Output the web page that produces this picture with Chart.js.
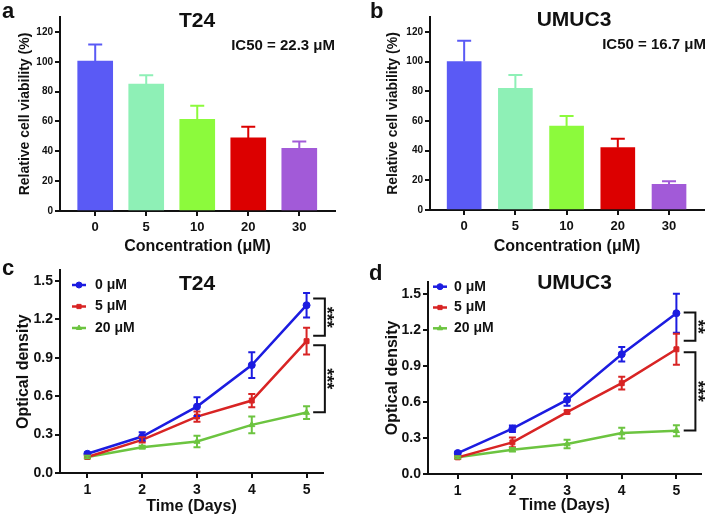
<!DOCTYPE html>
<html><head><meta charset="utf-8">
<script src="https://cdn.jsdelivr.net/npm/chart.js@4.4.1/dist/chart.umd.min.js"></script>
<style>
html,body{margin:0;padding:0;background:#fff;}
#wrap{position:relative;width:708px;height:519px;overflow:hidden;background:#fff;}
canvas{position:absolute;}
</style></head><body>
<div id="wrap">
<canvas id="ca" width="354" height="260" style="left:0;top:0"></canvas>
<canvas id="cb" width="354" height="260" style="left:354px;top:0"></canvas>
<canvas id="cc" width="354" height="259" style="left:0;top:260px"></canvas>
<canvas id="cd" width="354" height="259" style="left:354px;top:260px"></canvas>
</div>
<script>
// ---------- data ----------
const concentrations = ['0', '5', '10', '20', '30'];
const t24Viability = [100.5, 85, 61.5, 49, 42];
const t24ViabilityErr = [11, 6, 9, 7.5, 4.5];
const umuc3Viability = [100, 82, 56.5, 42, 17.3];
const umuc3ViabilityErr = [14, 9, 6.8, 6, 2];
const viabilityTicks = [0, 20, 40, 60, 80, 100, 120];

const days = [1, 2, 3, 4, 5];
const doseLabels = ['0 μM', '5 μM', '20 μM'];
const odTicks = [0, 0.3, 0.6, 0.9, 1.2, 1.5];

const t24_0uM = [0.150, 0.285, 0.519, 0.843, 1.311];
const t24_0uMErr = [0.01, 0.034, 0.073, 0.10, 0.096];
const t24_5uM = [0.125, 0.259, 0.441, 0.566, 1.03];
const t24_5uMErr = [0.01, 0.02, 0.04, 0.052, 0.104];
const t24_20uM = [0.125, 0.202, 0.246, 0.376, 0.472];
const t24_20uMErr = [0.01, 0.01, 0.045, 0.065, 0.05];

const umuc3_0uM = [0.175, 0.378, 0.619, 1.0, 1.342];
const umuc3_0uMErr = [0.01, 0.027, 0.05, 0.06, 0.163];
const umuc3_5uM = [0.139, 0.264, 0.517, 0.758, 1.041];
const umuc3_5uMErr = [0.01, 0.04, 0.012, 0.053, 0.13];
const umuc3_20uM = [0.139, 0.202, 0.25, 0.342, 0.361];
const umuc3_20uMErr = [0.01, 0.015, 0.035, 0.045, 0.045];

const t24Significance = [{top: 1.363, bottom: 1.072, label: '***'}, {top: 0.999, bottom: 0.475, label: '***'}];
const umuc3Significance = [{top: 1.347, bottom: 1.113, label: '**'}, {top: 1.017, bottom: 0.363, label: '***'}];

// ---------- styles ----------
const FF = "'Liberation Sans', Arial, Helvetica, sans-serif";
const barColors = ['#5a5af5', '#8ef0b6', '#8cfa3c', '#dc0000', '#a25ad8'];
const lineColors = ['#1c1ce0', '#d82424', '#6cc440'];
const pointStyles = ['circle', 'rect', 'triangle'];
Chart.defaults.font.family = FF;
Chart.defaults.color = '#111';

// ---------- plugins ----------
const errorBars = {
  id: 'errorBars',
  afterDatasetsDraw(chart, args, o) {
    const ctx = chart.ctx, xs = chart.scales.x, ys = chart.scales.y;
    chart.data.datasets.forEach(ds => {
      if (!ds.errors) return;
      ds.data.forEach((p, i) => {
        const col = Array.isArray(ds.errorColor) ? ds.errorColor[i] : ds.errorColor;
        const x = xs.getPixelForValue(p.x);
        const yt = ys.getPixelForValue(p.y + ds.errors[i]);
        const yb = ds.upOnly ? ys.getPixelForValue(p.y) : ys.getPixelForValue(p.y - ds.errors[i]);
        ctx.save();
        ctx.strokeStyle = col; ctx.lineWidth = o.lineWidth || 2;
        ctx.beginPath();
        ctx.moveTo(x, yt); ctx.lineTo(x, yb);
        ctx.moveTo(x - o.cap / 2, yt); ctx.lineTo(x + o.cap / 2, yt);
        if (!ds.upOnly) { ctx.moveTo(x - o.cap / 2, yb); ctx.lineTo(x + o.cap / 2, yb); }
        ctx.stroke();
        ctx.restore();
      });
    });
  }
};

const panelText = {
  id: 'panelText',
  afterDraw(chart, args, o) {
    const ctx = chart.ctx;
    (o.items || []).forEach(it => {
      ctx.save();
      ctx.font = it.font; ctx.fillStyle = '#111';
      ctx.textAlign = it.align || 'left'; ctx.textBaseline = 'alphabetic';
      ctx.fillText(it.text, it.x, it.y);
      ctx.restore();
    });
  }
};

const brackets = {
  id: 'brackets',
  afterDraw(chart, args, o) {
    if (!o.items) return;
    const ctx = chart.ctx, xs = chart.scales.x, ys = chart.scales.y;
    const xRef = xs.getPixelForValue(o.atX);
    const fs = o.fontSize;
    o.items.forEach(b => {
      const y1 = ys.getPixelForValue(b.top), y2 = ys.getPixelForValue(b.bottom);
      const xa = xRef + o.inner, xb = xRef + o.outer;
      ctx.save();
      ctx.strokeStyle = '#111'; ctx.lineWidth = 2;
      ctx.beginPath();
      ctx.moveTo(xa, y1); ctx.lineTo(xb, y1); ctx.lineTo(xb, y2); ctx.lineTo(xa, y2);
      ctx.stroke();
      ctx.translate(xRef + o.label - 0.58 * fs, (y1 + y2) / 2);
      ctx.rotate(Math.PI / 2);
      ctx.fillStyle = '#111';
      ctx.font = 'bold ' + fs + 'px ' + FF; ctx.textAlign = 'center'; ctx.textBaseline = 'alphabetic';
      ctx.fillText(b.label, 0, 0);
      ctx.restore();
    });
  }
};

const miniLegend = {
  id: 'miniLegend',
  afterDraw(chart, args, o) {
    const ctx = chart.ctx;
    chart.data.datasets.forEach((ds, i) => {
      const y = o.y + i * o.dy;
      ctx.save();
      ctx.strokeStyle = ds.borderColor; ctx.lineWidth = 2.5;
      ctx.beginPath(); ctx.moveTo(o.x, y); ctx.lineTo(o.x + o.len, y); ctx.stroke();
      ctx.fillStyle = ds.borderColor; ctx.lineWidth = 1;
      if (Chart.helpers && Chart.helpers.drawPoint) {
        Chart.helpers.drawPoint(ctx, {pointStyle: ds.pointStyle, radius: 3, borderWidth: 1, rotation: 0}, o.x + o.len / 2, y);
      }
      ctx.fillStyle = '#111'; ctx.font = o.font; ctx.textBaseline = 'middle'; ctx.textAlign = 'left';
      ctx.fillText(ds.label, o.textX, y);
      ctx.restore();
    });
  }
};

// ---------- common axis pieces ----------
function axisGrid() {
  return {display: true, drawOnChartArea: false, drawTicks: true, tickLength: 5, color: '#111', lineWidth: 2, offset: false};
}
function axisBorder() { return {display: true, color: '#111', width: 2}; }

// ---------- bar charts ----------
function barChart(id, values, errs, cfg) {
  return new Chart(document.getElementById(id), {
    type: 'bar',
    data: {
      datasets: [{
        data: values.map((v, i) => ({x: i, y: v})),
        backgroundColor: barColors,
        borderWidth: 0,
        barThickness: cfg.barW,
        errors: errs, errorColor: barColors, upOnly: true
      }]
    },
    options: {
      responsive: false, animation: false,
      layout: {padding: {top: cfg.top, right: cfg.right, left: 0, bottom: 0}},
      plugins: {
        legend: {display: false}, tooltip: {enabled: false}, title: {display: false},
        errorBars: {cap: 14, lineWidth: 2},
        panelText: {items: cfg.texts}
      },
      scales: {
        x: {
          type: 'linear', min: cfg.xmin, max: cfg.xmax, offset: false,
          grid: axisGrid(), border: axisBorder(),
          afterBuildTicks: s => { s.ticks = concentrations.map((c, i) => ({value: i})); },
          afterFit: s => { s.height = cfg.xh; },
          ticks: {font: {size: 13, weight: 'bold'}, padding: 4, color: '#111', maxRotation: 0,
                  callback: v => concentrations[v]},
          title: {display: true, text: 'Concentration (μM)', font: {size: 16, weight: 'bold'}, color: '#111',
                  padding: {top: 0, bottom: cfg.xtPad}}
        },
        y: {
          min: 0, max: 130,
          grid: axisGrid(), border: axisBorder(),
          afterBuildTicks: s => { s.ticks = viabilityTicks.map(v => ({value: v})); },
          afterFit: s => { s.width = cfg.left; },
          ticks: {font: {size: 10, weight: 'bold'}, padding: 2, color: '#111'},
          title: {display: true, text: 'Relative cell viability (%)', font: {size: 14, weight: 'bold'}, color: '#111',
                  padding: {top: cfg.ytPad, bottom: 0}}
        }
      }
    },
    plugins: [errorBars, panelText]
  });
}

// ---------- line charts ----------
function lineChart(id, series, errs, sig, cfg) {
  return new Chart(document.getElementById(id), {
    type: 'line',
    data: {
      datasets: series.map((s, k) => ({
        label: doseLabels[k],
        data: s.map((v, i) => ({x: days[i], y: v})),
        borderColor: lineColors[k], backgroundColor: lineColors[k],
        pointBackgroundColor: lineColors[k], pointBorderColor: lineColors[k],
        pointStyle: pointStyles[k], pointRadius: 3.5, pointBorderWidth: 1,
        borderWidth: 2.5, tension: 0, fill: false,
        errors: errs[k], errorColor: lineColors[k]
      }))
    },
    options: {
      responsive: false, animation: false,
      layout: {padding: {top: cfg.top, right: cfg.right, left: 0, bottom: 0}},
      plugins: {
        legend: {display: false}, tooltip: {enabled: false}, title: {display: false},
        errorBars: {cap: 7, lineWidth: 2},
        panelText: {items: cfg.texts},
        brackets: {items: sig, atX: 5, inner: cfg.bInner, outer: cfg.bOuter, label: cfg.bLabel, fontSize: 18},
        miniLegend: cfg.legend
      },
      scales: {
        x: {
          type: 'linear', min: cfg.xmin, max: cfg.xmax,
          grid: axisGrid(), border: axisBorder(),
          afterBuildTicks: s => { s.ticks = days.map(d => ({value: d})); },
          afterFit: s => { s.height = cfg.xh; },
          ticks: {font: {size: 14, weight: 'bold'}, padding: 4, color: '#111', maxRotation: 0},
          title: {display: true, text: 'Time (Days)', font: {size: 16, weight: 'bold'}, color: '#111',
                  padding: {top: 0, bottom: cfg.xtPad}}
        },
        y: {
          min: 0, max: cfg.ymax,
          grid: axisGrid(), border: axisBorder(),
          afterBuildTicks: s => { s.ticks = odTicks.map(v => ({value: v})); },
          afterFit: s => { s.width = cfg.left; },
          ticks: {font: {size: 14, weight: 'bold'}, padding: 2, color: '#111', callback: v => Number(v).toFixed(1)},
          title: {display: true, text: 'Optical density', font: {size: 16, weight: 'bold'}, color: '#111',
                  padding: {top: cfg.ytPad, bottom: 0}}
        }
      }
    },
    plugins: [errorBars, brackets, miniLegend, panelText]
  });
}

const letterFont = 'bold 22px ' + FF;
const titleFont = 'bold 21px ' + FF;
const icFont = 'bold 15px ' + FF;
const legFont = 'bold 14px ' + FF;

barChart('ca', t24Viability, t24ViabilityErr, {
  top: 17, right: 19, left: 60, xh: 49, xmin: -0.69, xmax: 4.7, barW: 35, xtPad: 3.4, ytPad: 16.6,
  texts: [
    {text: 'a', x: 2, y: 18, font: letterFont},
    {text: 'T24', x: 197, y: 27, font: titleFont, align: 'center'},
    {text: 'IC50 = 22.3 μM', x: 335, y: 50, font: icFont, align: 'right'}
  ]
});
barChart('cb', umuc3Viability, umuc3ViabilityErr, {
  top: 17, right: 4, left: 76, xh: 50, xmin: -0.667, xmax: 4.683, barW: 34, xtPad: 3.4, ytPad: 30.6,
  texts: [
    {text: 'b', x: 16, y: 18, font: letterFont},
    {text: 'UMUC3', x: 220, y: 26, font: titleFont, align: 'center'},
    {text: 'IC50 = 16.7 μM', x: 352, y: 49, font: icFont, align: 'right'}
  ]
});
lineChart('cc', [t24_0uM, t24_5uM, t24_20uM], [t24_0uMErr, t24_5uMErr, t24_20uMErr], t24Significance, {
  top: 10, right: 31, left: 60, xh: 46, xmin: 0.5, xmax: 5.3, ymax: 1.583, xtPad: 2.9, ytPad: 14,
  bInner: 6.6, bOuter: 18.3, bLabel: 25.3,
  legend: {x: 72, len: 14, textX: 95, y: 25, dy: 21.5, font: legFont},
  texts: [
    {text: 'c', x: 2, y: 15, font: letterFont},
    {text: 'T24', x: 197, y: 29.5, font: titleFont, align: 'center'}
  ]
});
lineChart('cd', [umuc3_0uM, umuc3_5uM, umuc3_20uM], [umuc3_0uMErr, umuc3_5uMErr, umuc3_20uMErr], umuc3Significance, {
  top: 21.7, right: 7, left: 74, xh: 45, xmin: 0.456, xmax: 5.45, ymax: 1.605, xtPad: 3.4, ytPad: 29.4,
  bInner: 7.3, bOuter: 19, bLabel: 26.5,
  legend: {x: 79, len: 14, textX: 100, y: 26.7, dy: 20.8, font: legFont},
  texts: [
    {text: 'd', x: 15, y: 20, font: letterFont},
    {text: 'UMUC3', x: 220.5, y: 28.5, font: titleFont, align: 'center'}
  ]
});
</script>
</body></html>
